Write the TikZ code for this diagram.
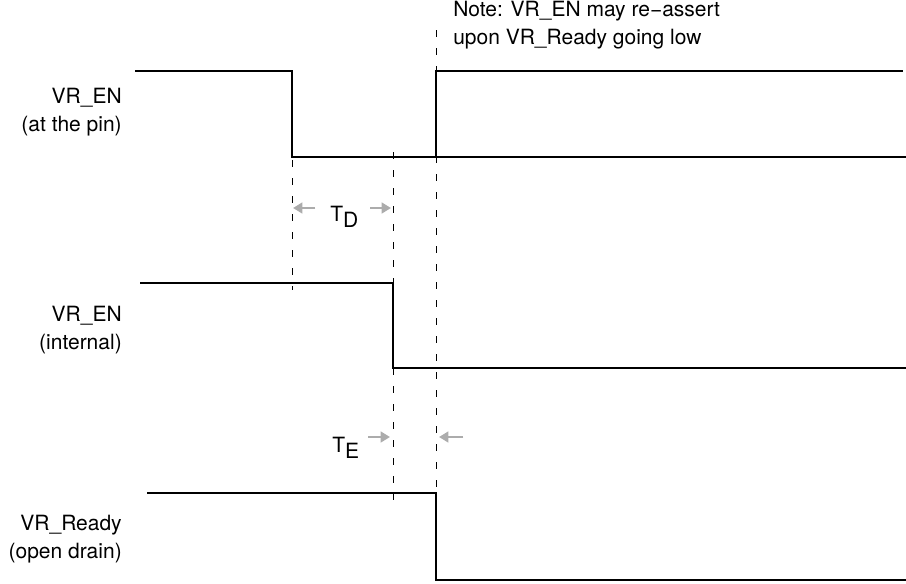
\documentclass[tikz,border=0pt]{standalone}
\usepackage{fontspec}
\setmainfont{TeX Gyre Heros}
\usetikzlibrary{arrows.meta, positioning}

\begin{document}
\begin{tikzpicture}[
  x=0.75pt, y=-0.75pt,
  every node/.style={inner sep=0pt, font=\fontsize{15.75}{21}\selectfont},
  wave/.style={line width=1.8pt},
  guide/.style={line width=0.75pt, dash pattern=on 5pt off 8.5pt},
  timing/.style={line width=2.2pt, draw=gray!65, fill=gray!65, -{Triangle[length=7pt,width=8pt]}},
  sig/.style={align=right, anchor=east}
]
  \useasboundingbox (0,0) rectangle (906,583);

  % signal names
  \node (pin) [sig] at (122,112) {VR\_EN\\(at the pin)};
  \node (int) [sig] at (122,330) {VR\_EN\\(internal)};
  \node (rdy) [sig] at (122,539) {VR\_Ready\\(open drain)};
  \node (note) [align=left, anchor=west] at (453,25) {Note: VR\_EN may re−assert\\upon VR\_Ready going low};

  % waveform corners
  \coordinate (p0) at (135,71);  \coordinate (p1) at (292,71);
  \coordinate (p2) at (292,157); \coordinate (p3) at (906,157);
  \coordinate (p4) at (436,157); \coordinate (p5) at (436,71);
  \coordinate (p6) at (903,71);
  \coordinate (i0) at (140,283); \coordinate (i1) at (393,283);
  \coordinate (i2) at (393,368); \coordinate (i3) at (906,368);
  \coordinate (r0) at (147,493); \coordinate (r1) at (436,493);
  \coordinate (r2) at (436,580); \coordinate (r3) at (906,580);

  % guides
  \draw [guide] (292,160) -- (292,290);
  \draw [guide] (393,152) -- (393,500);
  \draw [guide] (436,30) -- (r1);

  % waveforms
  \draw [wave] (p0) -- (p1) -- (p2) -- (p3);
  \draw [wave] (p4) -- (p5) -- (p6);
  \draw [wave] (i0) -- (i1) -- (i2) -- (i3);
  \draw [wave] (r0) -- (r1) -- (r2) -- (r3);

  % timing marks
  \node (td) [anchor=base west] at (330,221) {T\raisebox{-5pt}{D}};
  \node (te) [anchor=base west] at (332,452) {T\raisebox{-5pt}{E}};
  \coordinate (tdA) at (315,208); \coordinate (tdB) at (293,208);
  \coordinate (tdC) at (370,208); \coordinate (tdD) at (391,208);
  \coordinate (teA) at (368,437); \coordinate (teB) at (390,437);
  \coordinate (teC) at (463,437); \coordinate (teD) at (439,437);
  \draw [timing] (tdA) -- (tdB);
  \draw [timing] (tdC) -- (tdD);
  \draw [timing] (teA) -- (teB);
  \draw [timing] (teC) -- (teD);
\end{tikzpicture}
\end{document}
